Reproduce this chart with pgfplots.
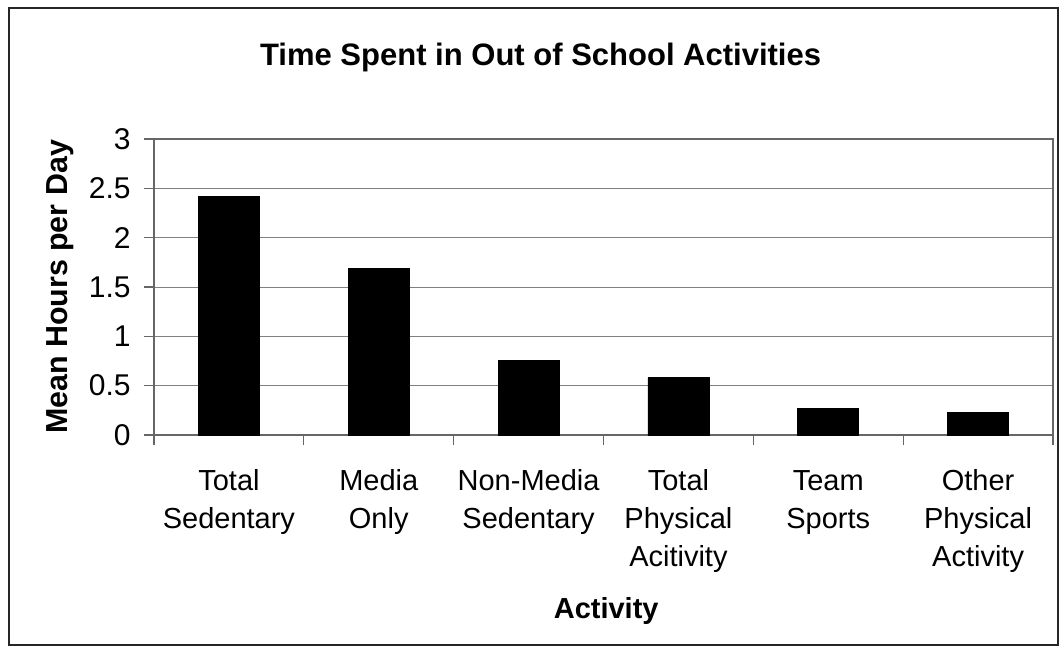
\documentclass[border=0pt]{standalone}
\usepackage{pgfplots}
\pgfplotsset{compat=1.18}
\usepackage{fontspec}
\setmainfont{Liberation Sans}
\begin{document}
\begin{tikzpicture}[x=0.5pt,y=0.5pt]
\begin{axis}[
  scale only axis, width=449.5pt, height=148pt,
  xmin=-0.5, xmax=5.5, ymin=0, ymax=3,
  axis line style={draw=black!60, line width=0.6pt},
  ytick={0,0.5,...,3},
  /pgf/number format/assume math mode=true,
  /pgf/number format/fixed,
  ymajorgrids=true,
  grid style={draw=black!50, line width=0.5pt},
  tick align=outside,
  tick pos=left,
  major tick length=5pt,
  tick style={draw=black!60, line width=0.6pt},
  xtick={-0.5,0.5,...,5.5},
  xticklabels={,,,,,,,},
  extra x ticks={0,1,2,3,4,5},
  extra x tick style={major tick length=0pt, grid=none},
  extra x tick labels={{\strut Total\\Sedentary},{\strut Media\\Only},{\strut Non-Media\\Sedentary},{\strut Total\\Physical\\Acitivity},{\strut Team\\Sports},{\strut Other\\Physical\\Activity}},
  xticklabel style={align=center, font=\fontsize{14.5}{19}\selectfont, inner sep=0pt, yshift=-14.2pt},
  yticklabel style={font=\fontsize{15}{17}\selectfont, inner sep=0pt, xshift=-6.5pt},
  title={Time Spent in Out of School Activities},
  every axis title/.style={at={(rel axis cs:0.430,1.274)}, anchor=center, font=\bfseries\fontsize{15.5}{18}\selectfont},
  xlabel={Activity},
  ylabel={Mean Hours per Day},
  every axis x label/.style={at={(rel axis cs:0.503,-0.593)}, anchor=center, font=\bfseries\fontsize{14.5}{17}\selectfont},
  every axis y label/.style={at={(rel axis cs:-0.1046,0.5)}, rotate=90, anchor=center, font=\bfseries\fontsize{15.2}{17}\selectfont},
]
\addplot[ybar, bar width=30.5pt, fill=black, draw=black] coordinates {
  (0,2.42) (1,1.69) (2,0.76) (3,0.58) (4,0.27) (5,0.23)
};
\coordinate (O) at (rel axis cs:0,0);
\end{axis}
\begin{scope}[shift={(O)}]
\useasboundingbox (-154,-218) rectangle (906,435);
\draw[line width=1pt, black!85] (-145,-209.5) rectangle (903.5,426.5);
\end{scope}
\end{tikzpicture}
\end{document}
